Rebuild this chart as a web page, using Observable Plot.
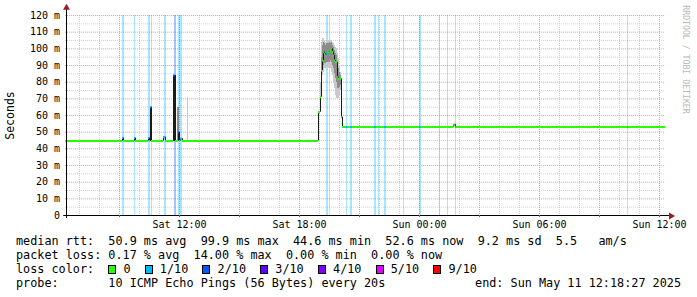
<!DOCTYPE html>
<html><head><meta charset="utf-8">
<script src="https://cdn.jsdelivr.net/npm/d3@7"></script>
<script src="https://cdn.jsdelivr.net/npm/@observablehq/plot@0.6"></script>
<style>
html,body{margin:0;padding:0;background:#fff;}
#wrap{position:relative;width:697px;height:297px;overflow:hidden;font-family:"DejaVu Sans Mono",monospace;color:#000;}
#chart{position:absolute;left:0;top:0;}
#legend{position:absolute;left:16px;top:234px;font-size:11.8px;line-height:14px;white-space:pre;}
#legend .row{height:14px;}
.box{display:inline-block;width:6px;height:7px;border:1px solid #000;vertical-align:-1px;}
#endtxt{position:absolute;right:16px;top:276px;font-size:11.8px;line-height:14px;white-space:pre;}
</style></head>
<body><div id="wrap"><div id="chart"></div><div id="legend"></div><div id="endtxt"></div></div>
<script>
// ---- time frame (hours since Sat May 10 2025 00:00) ----
const START_H = 6.3075, END_H = 36.3075, STEP_H = 0.05; // 3-minute RRD step

// ---- median rtt (ms) before the event: run-length [start hour, value, loss/10] ----
const preStart = [6.3075, 9.15, 9.2, 9.75, 9.8, 10.45, 10.5, 10.55, 10.6, 11.2, 11.3, 11.7, 11.8, 11.95, 12.0, 12.05, 12.15];
const preMs    = [44.7, 46.5, 44.7, 46.5, 44.7, 46.5, 44.7, 65, 44.7, 47, 44.7, 84, 44.7, 50, 44.7, 46, 44.7];
const preLoss  = [0, 1, 0, 1, 0, 1, 0, 1, 0, 1, 0, 2, 0, 2, 0, 1, 0];

// ---- event around Sat 19:00, one value per 3-minute step ----
const eventStart = 18.95;
const eventMs   = [62, 62, 71, 87, 93, 98, 97, 96, 97, 97, 98, 99, 99, 100, 98, 96, 93, 92, 92, 83, 82, 82, 82, 59];
const eventLoss = [0, 0, 0, 0, 0, 0, 0, 0, 1, 1, 0, 1, 0, 0, 0, 0, 0, 0, 0, 0, 0, 0, 0, 0];
const outerLo = [null, null, 66, 78, 84, 86, 88, 88, 88, 89, 88, 88, 88, 86, 84, 80, 76, 72, 70, 70, 70, 72, 75, null];
const outerHi = [null, null, 80, 104, 106, 106, 105, 104, 105, 105, 105, 106, 105, 105, 104, 103, 102, 101, 100, 97, 94, 90, 86, null];
const innerLo = [null, null, null, 84, 88, 90, 91, 91, 92, 92, 92, 92, 93, 92, 90, 88, 85, 82, 80, 76, 76, 77, 78, null];
const innerHi = [null, null, null, 95, 102, 104, 103, 102, 103, 103, 103, 104, 103, 104, 102, 101, 99, 97, 96, 92, 88, 86, 84, null];

// ---- median rtt after the event ----
const postStart = [20.15, 20.35, 20.4, 20.55, 20.65, 21.75, 21.85, 22.25, 22.35, 24.0, 24.1, 25.7, 25.8, 25.85, 34.4, 34.45];
const postMs    = [53.1, 53.1, 53.1, 53.1, 53.1, 53.1, 53.1, 53.1, 53.1, 53.1, 53.1, 54.6, 53.1, 53.1, 53.1, 53.1];
const postLoss  = [0, 1, 0, 1, 0, 1, 0, 1, 0, 1, 0, 0, 1, 0, 1, 0];

// ---- smoke spikes (single steps) ----
const spikeStart = [10.55, 10.6, 11.7, 11.75, 11.8, 11.9, 11.95, 12.4];
const spikeHi    = [65, 64, 84, 84, 84, 65, 65, 71];
const spikeTone  = [2, 2, 2, 2, 2, 1, 1, 0];
const smokeTones = ["#c8c8c8", "#8c8c8c", "#1e1e1e"];

// ---- packet loss background bars ----
const lossStart = [9.15, 9.75, 10.45, 10.6, 11.25, 11.75, 11.95, 19.35, 19.5, 20.35, 20.55, 21.75, 21.95, 22.25, 23.2, 24.0, 25.0, 25.4, 25.8, 34.4];
const lossSteps = [2, 1, 2, 1, 2, 2, 4, 2, 1, 1, 2, 2, 1, 2, 1, 2, 1, 1, 1, 1];
const lossLevel = [1, 1, 1, 1, 1, 2, 1, 1, 1, 1, 1, 1, 1, 1, 1, 1, 1, 1, 1, 1];

// ---- legend ----
const lossLabels = ["0", "1/10", "2/10", "3/10", "4/10", "5/10", "9/10"];
const lossColors = ["#26ff00", "#00b8ff", "#0059ff", "#5e00ff", "#7e00ff", "#dd00ff", "#ff0000"];
const rttStats  = ["50.9 ms avg", "99.9 ms max", "44.6 ms min", "52.6 ms now", "9.2 ms sd", "5.5   am/s"];
const lossStats = ["0.17 % avg", "14.00 % max", "0.00 % min", "0.00 % now"];
const probeText = "10 ICMP Echo Pings (56 Bytes) every 20s";
const endText = "end: Sun May 11 12:18:27 2025";
const yTicks = [0, 10, 20, 30, 40, 50, 60, 70, 80, 90, 100, 110, 120];

const base = new Date(2025, 4, 10, 0, 0, 0).getTime();
const D = h => new Date(base + h * 3600e3);

// merge median table
const med = [];
preStart.forEach((h, i) => med.push({h, ms: preMs[i], loss: preLoss[i]}));
eventMs.forEach((v, i) => med.push({h: eventStart + i * STEP_H, ms: v, loss: eventLoss[i]}));
postStart.forEach((h, i) => med.push({h, ms: postMs[i], loss: postLoss[i]}));
med.forEach((d, i) => { d.t0 = D(d.h); d.t1 = D(i + 1 < med.length ? med[i + 1].h : END_H); });
const conn = [];
for (let i = 1; i < med.length; i++) {
  if (Math.abs(med[i].ms - med[i - 1].ms) >= 1) conn.push({t: med[i].t0, a: med[i - 1].ms, b: med[i].ms});
}
const smoke = [];
spikeStart.forEach((h, i) => smoke.push({t0: D(h), t1: D(h + STEP_H), lo: 44.7, hi: spikeHi[i], c: smokeTones[spikeTone[i]]}));
eventMs.forEach((v, i) => {
  const h = eventStart + i * STEP_H;
  if (outerLo[i] != null) smoke.push({t0: D(h), t1: D(h + STEP_H), lo: outerLo[i], hi: outerHi[i], c: smokeTones[0]});
});
eventMs.forEach((v, i) => {
  const h = eventStart + i * STEP_H;
  if (innerLo[i] != null) smoke.push({t0: D(h), t1: D(h + STEP_H), lo: innerLo[i], hi: innerHi[i], c: smokeTones[1]});
});
const loss = lossStart.map((h, i) => ({t0: D(h), t1: D(h + lossSteps[i] * STEP_H), c: lossColors[lossLevel[i]]}));

const hourTicks = d3.timeHour.range(D(START_H), D(END_H));
const minorX = hourTicks.filter(d => d.getHours() % 3 !== 0);
const majorX = hourTicks.filter(d => d.getHours() % 3 === 0);
const labelX = hourTicks.filter(d => d.getHours() % 6 === 0);

const chart = Plot.plot({
  width: 697, height: 232,
  marginLeft: 65.15, marginRight: 31.85, marginTop: 15, marginBottom: 17,
  x: {type: "time", domain: [D(START_H), D(END_H)]},
  y: {domain: [0, 120]},
  style: {fontFamily: "DejaVu Sans Mono", fontSize: "10px", background: "#fff", color: "#000", overflow: "visible"},
  marks: [
    Plot.gridY(d3.range(5, 120, 10), {stroke: "#cfcfcf", strokeOpacity: 1, strokeDasharray: "1,1"}),
    Plot.gridX(minorX, {stroke: "#cfcfcf", strokeOpacity: 1, strokeDasharray: "1,1"}),
    Plot.gridY(d3.range(10, 121, 10), {stroke: "#e09a9a", strokeOpacity: 1, strokeDasharray: "1,1"}),
    Plot.gridX(majorX, {stroke: "#e09a9a", strokeOpacity: 1, strokeDasharray: "1,1"}),
    Plot.rect(loss, {x1: "t0", x2: "t1", y1: 0, y2: 120, fill: "c", fillOpacity: 0.35, shapeRendering: "crispEdges"}),
    Plot.rect(smoke, {x1: "t0", x2: "t1", y1: "lo", y2: "hi", fill: "c", shapeRendering: "crispEdges"}),
    Plot.ruleX(conn, {x: "t", y1: "a", y2: "b", stroke: "#1a1a1a", strokeWidth: 1}),
    Plot.ruleY(med, {y: "ms", x1: "t0", x2: "t1", stroke: d => lossColors[d.loss], strokeWidth: 2}),
    Plot.ruleY([0], {x1: D(START_H - 0.1), x2: D(END_H + 0.2), stroke: "#000"}),
    Plot.ruleX(majorX, {y1: 0, y2: -1.3, stroke: "#d04040"}),
    Plot.ruleX([D(START_H)], {y1: -1.8, y2: 123.5, stroke: "#000", dx: 0.85}),
    Plot.dot([D(START_H)], {x: d => d, y: 124.6, symbol: "triangle", r: 2.6, fill: "#9b1c1c", stroke: "none", dx: 0.85}),
    Plot.dot([D(END_H + 0.27)], {x: d => d, y: 0, symbol: "triangle", r: 2.6, fill: "#9b1c1c", stroke: "none", rotate: 90, dy: 0.5}),
    Plot.axisY(yTicks, {tickFormat: d => d ? `${d} m` : "0", tickSize: 0, tickPadding: 5.5, label: null, fontSize: 10}),
    Plot.axisX(labelX, {tickFormat: d3.timeFormat("%a %H:%M"), tickSize: 0, tickPadding: 5.5, label: null, fontSize: 10}),
    Plot.text(["Seconds"], {frameAnchor: "left", dx: -55, rotate: -90, textAnchor: "middle", fontSize: 11.5}),
    Plot.text(["RRDTOOL / TOBI OETIKER"], {frameAnchor: "top-right", dx: 23, dy: 44, rotate: 90, textAnchor: "middle", fill: "#b8b8b8", fontSize: 8.2})
  ]
});
document.getElementById("chart").appendChild(chart);

// legend
const lg = document.getElementById("legend");
const row = html => { const d = document.createElement("div"); d.className = "row"; d.innerHTML = html; lg.appendChild(d); };
row("median rtt:  " + rttStats.join("  "));
row("packet loss: " + lossStats.join("  "));
row("loss color:  " + lossLabels.map((l, i) => `<span class="box" style="background:${lossColors[i]}"></span> ${l}`).join("  "));
row("probe:       " + probeText);
document.getElementById("endtxt").textContent = endText;
</script>
</body></html>
